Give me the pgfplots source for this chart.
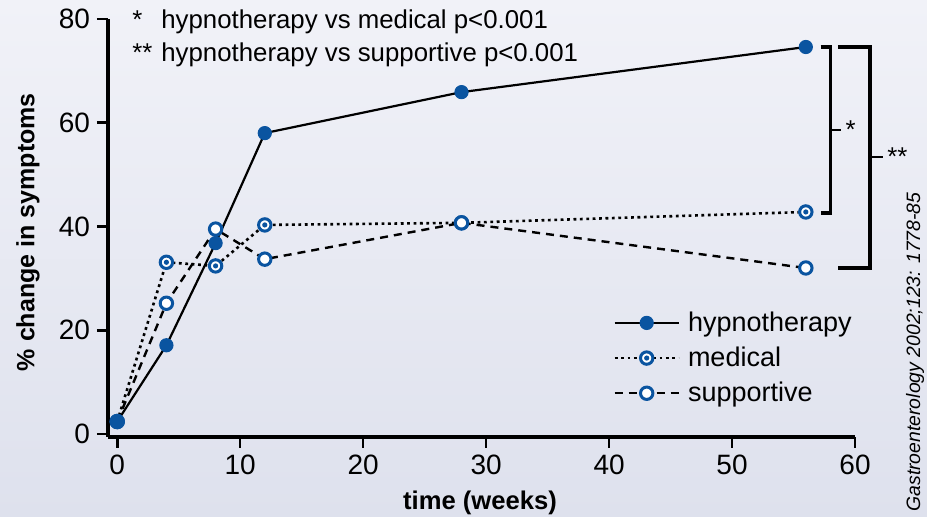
\documentclass[border=0pt]{standalone}
\usepackage{pgfplots}
\pgfplotsset{compat=1.18}
\usepackage{fontspec}
\setmainfont{Liberation Sans}
\definecolor{mblue}{RGB}{10,84,160}
\definecolor{bgtop}{RGB}{241,242,248}
\definecolor{bgbot}{RGB}{222,225,237}
\pgfdeclareplotmark{ringdot}{%
  \pgfpathcircle{\pgfpointorigin}{\pgfplotmarksize}%
  \pgfusepathqfillstroke
  \begin{pgfscope}%
  \pgfpathcircle{\pgfpointorigin}{0.42\pgfplotmarksize}%
  \pgfsetfillcolor{mblue}\pgfusepathqfill
  \end{pgfscope}%
}
\begin{document}
\begin{tikzpicture}[font=\fontsize{12.9}{15.5}\selectfont]
\shade[top color=bgtop, bottom color=bgbot] (-54pt,-40pt) rectangle (409.5pt,218.5pt);
\path[use as bounding box] (-54pt,-40pt) rectangle (409.5pt,218.5pt);
\begin{axis}[
  at={(0,0)}, anchor=south west, scale only axis,
  width=373.5pt, height=209pt,
  xmin=-0.75, xmax=60, ymin=-0.58, ymax=80,
  axis x line*=bottom, axis y line*=left,
  axis line style={line width=1.6pt, -},
  tick style={line width=1.3pt, black},
  tick align=outside, major tick length=5.5pt,
  xtick={0,10,...,60}, ytick={0,20,...,80},
  tick label style={font=\fontsize{14}{16}\selectfont},
  /pgf/number format/assume math mode=true,
  xlabel={time (weeks)}, ylabel={\% change in symptoms},
  xlabel style={font=\fontsize{12.8}{15}\selectfont\bfseries, at={(axis description cs:0.498,-0.158)}, anchor=center},
  ylabel style={font=\fontsize{12.5}{15}\selectfont\bfseries, at={(axis description cs:-0.107,0.49)}, anchor=center},
  clip=false,
  legend style={at={(axis description cs:0.668,0.32)}, anchor=north west, draw=none, fill=none,
     row sep=2.3pt, font=\fontsize{13.5}{16}\selectfont, nodes={inner xsep=4pt}},
  legend cell align=left,
  legend image code/.code={\draw[mark repeat=2, mark phase=2] plot coordinates {(0pt,0pt) (16pt,0pt) (32pt,0pt)};},
]
\addplot[black, line width=1.1pt, mark=*, mark size=3.3pt, mark options={solid, fill=mblue, draw=mblue, line width=0.5pt}]
  coordinates {(0,2.4) (4,17.1) (8,36.8) (12,58.0) (28,65.9) (56,74.6)};
\addlegendentry{hypnotherapy}
\addplot[black, line width=1.3pt, dash pattern=on 1.4pt off 1.8pt, mark=ringdot, mark size=3.1pt, mark options={solid, fill=white, draw=mblue, line width=1.5pt}]
  coordinates {(0,2.4) (4,33.1) (8,32.4) (12,40.3) (28,40.7) (56,42.8)};
\addlegendentry{medical}
\addplot[black, line width=1.2pt, dash pattern=on 4pt off 3pt, mark=*, mark size=3.1pt, mark options={solid, fill=white, draw=mblue, line width=1.5pt}]
  coordinates {(0,2.4) (4,25.2) (8,39.5) (12,33.7) (28,40.7) (56,32.0)};
\addlegendentry{supportive}
% significance brackets
\draw[line width=1.8pt] (axis cs:57.2,74.6) -- (axis cs:58.0,74.6) -- (axis cs:58.0,42.6) -- (axis cs:57.2,42.6);
\draw[line width=1.1pt] (axis cs:58.0,58.6) -- (axis cs:58.9,58.6) node[right, inner sep=1.5pt] {*};
\draw[line width=1.8pt] (axis cs:58.6,74.6) -- (axis cs:61.2,74.6) -- (axis cs:61.2,32.0) -- (axis cs:58.6,32.0);
\draw[line width=1.1pt] (axis cs:61.2,53.4) -- (axis cs:62.3,53.4) node[right, inner sep=1.5pt] {**};
\addplot[draw=none, mark=*, mark size=3.3pt, mark options={fill=mblue, draw=mblue, line width=0.5pt}] coordinates {(0,2.4)};
\end{axis}
\node[anchor=base west, inner sep=0pt] at (12pt,204pt) {*};
\node[anchor=base west, inner sep=0pt] at (26.5pt,204pt) {hypnotherapy vs medical p<0.001};
\node[anchor=base west, inner sep=0pt] at (12pt,187.5pt) {**};
\node[anchor=base west, inner sep=0pt] at (26.5pt,187.5pt) {hypnotherapy vs supportive p<0.001};
\node[rotate=90, font=\fontsize{9.7}{11}\selectfont\itshape] at (403.5pt,42.5pt) {Gastroenterology 2002;123: 1778-85};
\end{tikzpicture}
\end{document}
